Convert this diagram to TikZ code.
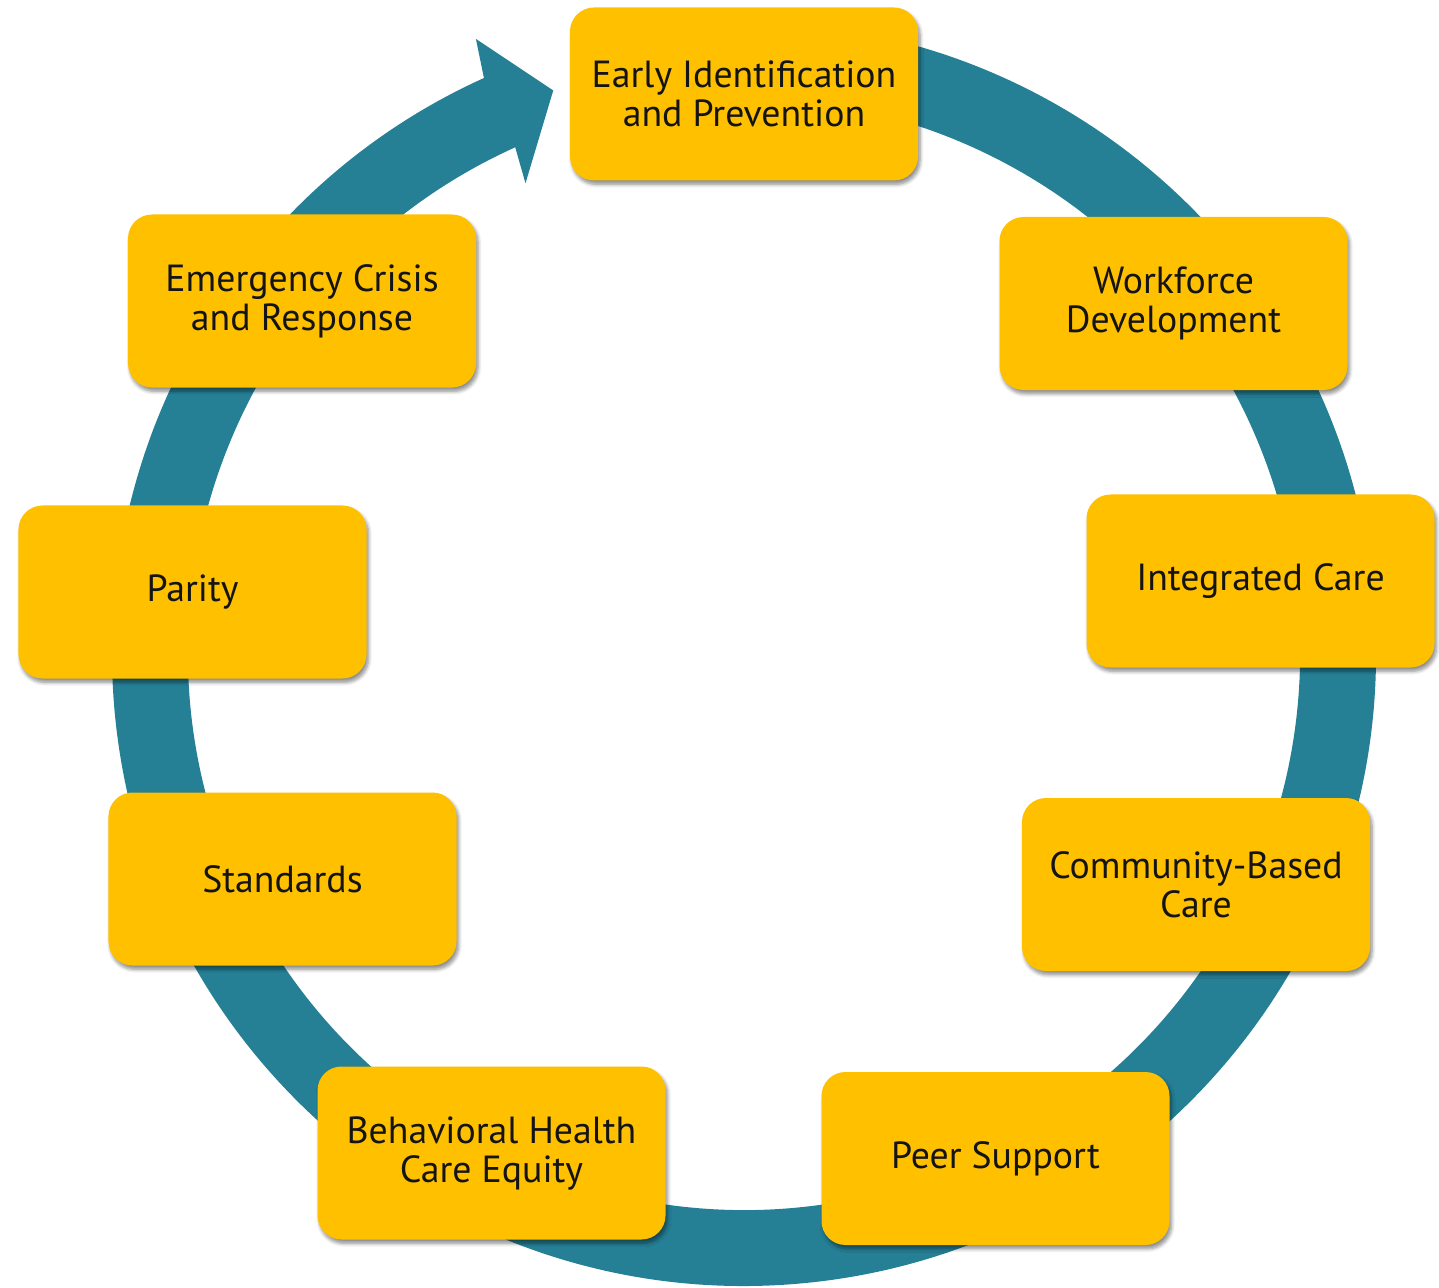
\documentclass[tikz,border=0pt]{standalone}
\usepackage{fontspec}
\setmainfont{PT Sans}
\usetikzlibrary{shadows.blur}
\definecolor{ringteal}{RGB}{37,128,150}
\definecolor{boxgold}{RGB}{255,192,0}

\begin{document}
\begin{tikzpicture}[x=0.2mm,y=-0.2mm,
    stage/.style={rectangle,rounded corners=4.8mm,fill=boxgold,
      minimum width=69.6mm,minimum height=34.6mm,align=center,
      font=\fontsize{21.5}{22.2}\selectfont,text=black!92,
      blur shadow={shadow xshift=1.2pt,shadow yshift=-2.2pt,
        shadow blur steps=6,shadow opacity=45}}]

  \useasboundingbox (0,0) rectangle (1439,1288);
  \coordinate (c) at (744,654);

  % the ring, ending in its arrow head
  \fill[ringteal] ([shift={(265:632)}]c) arc[start angle=265,end angle=605.7,radius=632]
        -- ([shift={(246.45:671)}]c) -- ([shift={(251.3:595)}]c)
        -- ([shift={(245.1:519)}]c) -- ([shift={(245.7:556)}]c)
        arc[start angle=605.7,end angle=265,radius=556] -- cycle;

  \node[stage] (early)  at (744,94)     {Early Identification\\and Prevention};
  \node[stage] (work)   at (1173.5,303.5) {Workforce\\Development};
  \node[stage] (integ)  at (1260.5,581) {Integrated Care};
  \node[stage] (comm)   at (1196,884.5) {Community-Based\\Care};
  \node[stage] (peer)   at (995.5,1158.5) {Peer Support};
  \node[stage] (equity) at (491.5,1153) {Behavioral Health\\Care Equity};
  \node[stage] (stand)  at (282.5,879)  {Standards};
  \node[stage] (parity) at (192.5,592)  {Parity};
  \node[stage] (crisis) at (302,301)    {Emergency Crisis\\and Response};

\end{tikzpicture}
\end{document}
